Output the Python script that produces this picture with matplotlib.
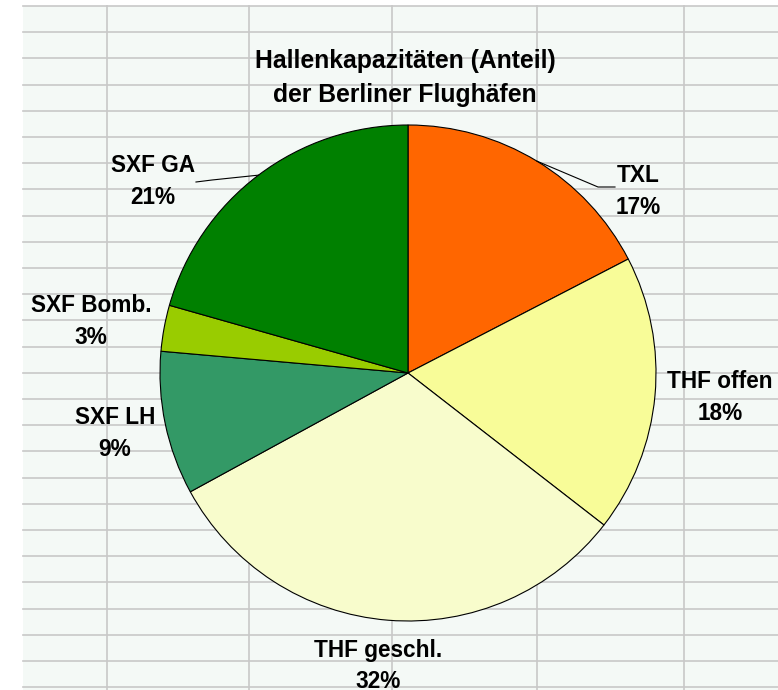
import matplotlib
matplotlib.use("Agg")
import matplotlib.pyplot as plt
import numpy as np

# shares read from the wedge boundaries (labels show the rounded Excel values)
labels = ["TXL", "THF offen", "THF geschl.", "SXF LH", "SXF Bomb.", "SXF GA"]
shares = [17.4, 18.1, 31.55, 9.35, 3.0, 20.6]
pct_text = ["17%", "18%", "32%", "9%", "3%", "21%"]
colors = ["#ff6600", "#f8fc98", "#f8fccc", "#339966", "#99cc00", "#008000"]

W, H = 778, 690
cx, cy, r = 408, H - 373, 248

# label block centres, in pixels from the top-left of the picture
label_pos = [(638, 191), (720, 397), (378, 666), (115, 433), (91, 322), (153, 181)]
# leader lines: elbow + end point near the label
leaders = {0: [(598, 187), (615, 187)], 5: [(212, 180), (196, 182)]}

plt.rcParams["font.family"] = ["Liberation Sans", "DejaVu Sans"]

fig = plt.figure(figsize=(W / 100, H / 100), dpi=100)
ax = fig.add_axes([0, 0, 1, 1])

# spreadsheet look in the background
ax.add_patch(plt.Rectangle((23, 0), W - 23, H - 6, facecolor="#f4f9f6",
                           edgecolor="none", zorder=0))
for k in range(27):
    y = H - (6 + 26.2 * k)
    ax.plot([23, W], [y, y], color="#c8c8c8", lw=1.2, zorder=0.5)
for x in [107, 249, 392, 537, 684]:
    ax.plot([x, x], [0, H - 6], color="#c8c8c8", lw=1.2, zorder=0.5)

ax.pie(shares, colors=colors, startangle=90, counterclock=False,
       center=(cx, cy), radius=r, frame=True,
       wedgeprops=dict(edgecolor="black", linewidth=0.8))

for i, (lab, pct) in enumerate(zip(labels, pct_text)):
    x, y = label_pos[i]
    ax.text(x, H - y, lab + "\n" + pct, ha="center", va="center",
            fontsize=16.3, fontweight="bold", linespacing=1.5)

total = sum(shares)
cum = np.cumsum([0] + shares)
for i, pts in leaders.items():
    mid = np.radians(90 - 360 * (cum[i] + shares[i] / 2) / total)
    xs = [cx + r * np.cos(mid)] + [p[0] for p in pts]
    ys = [cy + r * np.sin(mid)] + [H - p[1] for p in pts]
    ax.plot(xs, ys, color="black", lw=0.8, zorder=3)

ax.text(405, H - 78, "Hallenkapazitäten (Anteil)\nder Berliner Flughäfen",
        ha="center", va="center", fontsize=17.8, fontweight="bold",
        linespacing=1.55)

ax.set_xlim(0, W)
ax.set_ylim(0, H)
ax.set_aspect("equal")
ax.axis("off")

fig.savefig("out.png", dpi=100)
